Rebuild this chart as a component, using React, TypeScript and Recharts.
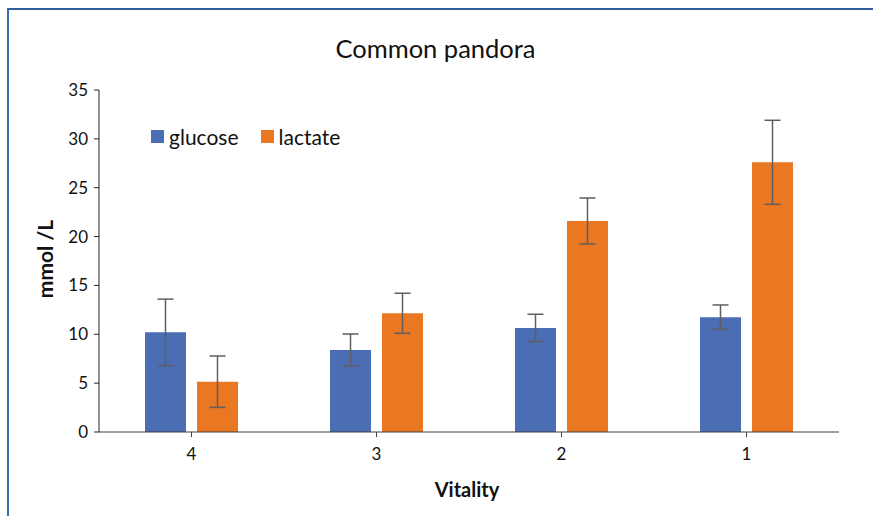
import { BarChart, Bar, XAxis, YAxis, ErrorBar, Legend } from "recharts";

document.body.style.margin = "0";

const categories = ["4", "3", "2", "1"];
const glucose = [10.2, 8.4, 10.65, 11.75];
const glucoseErr = [3.4, 1.63, 1.4, 1.25];
const lactate = [5.15, 12.15, 21.6, 27.6];
const lactateErr = [2.63, 2.05, 2.35, 4.3];
const yTicks = [0, 5, 10, 15, 20, 25, 30, 35];

const BLUE = "#4a6db4";
const ORANGE = "#ea7722";
const FONT = "Lato, 'Open Sans', sans-serif";

const rows = categories.map((c, i) => ({
  vitality: c,
  glucose: glucose[i],
  glucoseErr: glucoseErr[i],
  lactate: lactate[i],
  lactateErr: lactateErr[i],
}));

function LegendBox({ payload }: any) {
  return (
    <div style={{ display: "flex", alignItems: "center", fontFamily: FONT, fontSize: 21, color: "#111" }}>
      {(payload || []).map((p: any, i: number) => (
        <div key={p.value} style={{ display: "flex", alignItems: "center", marginRight: i === 0 ? 22 : 0 }}>
          <span style={{ display: "inline-block", width: 13, height: 13, background: p.color, marginRight: 5 }} />
          <span>{p.value}</span>
        </div>
      ))}
    </div>
  );
}

export default function App() {
  return (
    <div style={{ position: "relative", width: 873, height: 516, background: "#fff", overflow: "hidden" }}>
      {/* frame edges (top + left only visible) */}
      <div style={{ position: "absolute", left: 7, top: 8, right: -4, bottom: -4, borderTop: "2px solid #2f5f9e", borderLeft: "2px solid #3b6fb4" }} />

      <BarChart
        width={873}
        height={516}
        data={rows}
        margin={{ top: 90, right: 34, bottom: 54, left: 55 }}
        barSize={41}
        barGap={11}
      >
        {/* only used for the closing tick at the right end of the axis */}
        <XAxis
          xAxisId="edge"
          type="number"
          domain={[0, 4]}
          ticks={[4]}
          height={0}
          axisLine={false}
          tick={{ fill: "transparent", fontSize: 1 }}
          tickLine={{ stroke: "#404040" }}
          tickSize={5}
        />
        <XAxis
          dataKey="vitality"
          stroke="#404040"
          tick={{ fill: "#111", fontSize: 17, fontFamily: FONT }}
          tickSize={5}
          tickMargin={11}
        />
        <YAxis
          domain={[0, 35]}
          ticks={yTicks}
          width={44}
          stroke="#222"
          tick={{ fill: "#111", fontSize: 17, fontFamily: FONT }}
          tickSize={5}
          tickMargin={6}
        />
        <Legend
          verticalAlign="middle"
          align="center"
          content={<LegendBox />}
          wrapperStyle={{ position: "absolute", top: 124, left: 151, width: 260 }}
        />
        <Bar dataKey="glucose" name="glucose" fill={BLUE} isAnimationActive={false}>
          <ErrorBar dataKey="glucoseErr" width={8} stroke="#5f5f5f" strokeWidth={1.5} isAnimationActive={false} />
        </Bar>
        <Bar dataKey="lactate" name="lactate" fill={ORANGE} isAnimationActive={false}>
          <ErrorBar dataKey="lactateErr" width={8} stroke="#5f5f5f" strokeWidth={1.5} isAnimationActive={false} />
        </Bar>
      </BarChart>

      <div style={{ position: "absolute", left: 0, width: 873, top: 33, textAlign: "center", fontFamily: FONT, fontSize: 25.5, color: "#111" }}>
        <span style={{ position: "relative", left: -1 }}>Common pandora</span>
      </div>
      <div style={{ position: "absolute", left: 0, width: 934, top: 477, textAlign: "center", fontFamily: FONT, fontSize: 20, fontWeight: 700, color: "#111" }}>
        Vitality
      </div>
      <div
        style={{
          position: "absolute", left: 44, top: 259, transform: "translate(-50%, -50%) rotate(-90deg)",
          fontFamily: FONT, fontSize: 21, fontWeight: 700, color: "#111", whiteSpace: "nowrap",
        }}
      >
        mmol /L
      </div>
    </div>
  );
}
